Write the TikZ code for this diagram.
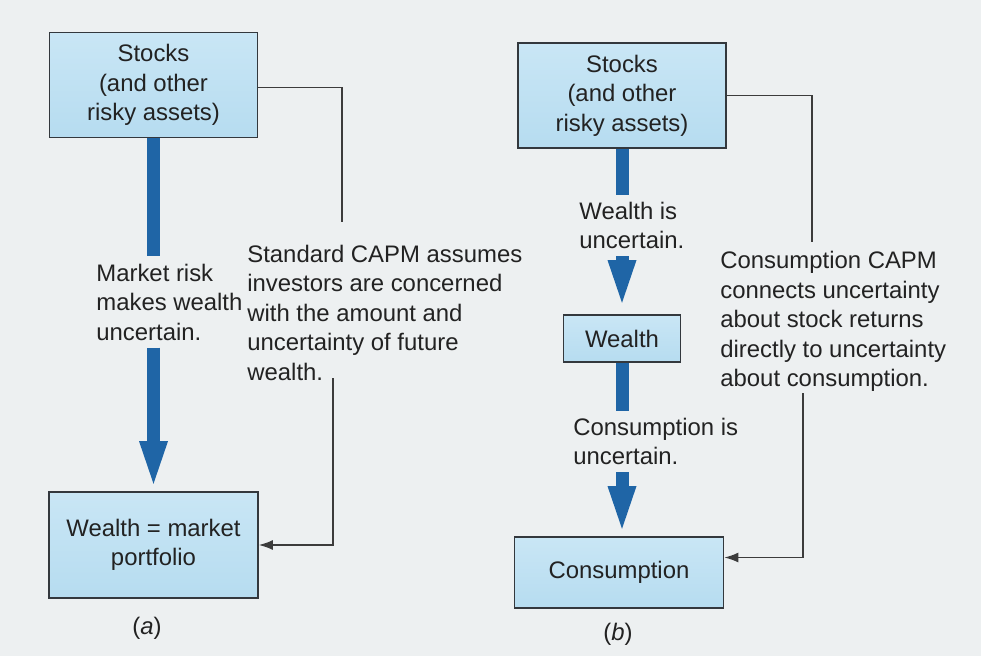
\documentclass[tikz,border=0pt]{standalone}
\usepackage{fontspec}
\setmainfont{Liberation Sans}
\usetikzlibrary{arrows.meta}
\definecolor{pagebg}{HTML}{EDF0F1}
\definecolor{boxtop}{HTML}{C9E6F5}
\definecolor{boxbot}{HTML}{B6DCF0}
\definecolor{boxline}{HTML}{33383D}
\definecolor{flowblue}{HTML}{1F65A6}
\definecolor{linkgray}{HTML}{3C3C3C}
\definecolor{textgray}{HTML}{222222}

\begin{document}
\begin{tikzpicture}[x=0.02cm,y=-0.02cm,
  font=\fontsize{13.6}{16.8}\selectfont,
  box/.style={draw=boxline,line width=1pt,top color=boxtop,bottom color=boxbot,
    align=center,inner sep=0pt,text=textgray},
  txt/.style={align=left,inner sep=4pt,text=textgray},
  flow/.style={draw=flowblue,line width=0.26cm},
  flowhead/.style={flow,-{Triangle[width=0.48cm,length=1cm]}},
  link/.style={draw=linkgray,line width=0.8pt},
  linkhead/.style={link,-{Latex[length=0.28cm,width=0.2cm]}}]
  \fill[pagebg] (0,0) rectangle (981,656);

  % (a) standard CAPM
  \node[box,minimum width=4.16cm,minimum height=2.1cm] (stocksA) at (153.5,85)
    {Stocks\\(and other\\risky assets)};
  \node[txt,anchor=west] (riskA) at (89,302) {Market risk\\makes wealth\\uncertain.};
  \node[box,minimum width=4.18cm,minimum height=2.12cm] (wealthA) at (153.5,545)
    {Wealth = market\\portfolio};
  \node[txt,anchor=west] (capmA) at (240,312.5)
    {Standard CAPM assumes\\investors are concerned\\with the amount and\\uncertainty of future\\wealth.};
  \coordinate (capmTopA) at (342,222);
  \coordinate (capmBotA) at (333,378);
  \draw[flow] (stocksA.south) -- (stocksA.south |- riskA.north);
  \draw[flowhead] (wealthA.north |- riskA.south) -- (wealthA.north);
  \draw[link] ([yshift=-0.05cm]stocksA.east) -| (capmTopA);
  \draw[linkhead] (capmBotA) |- (wealthA.east);
  \node[text=textgray] (capA) at (147,628) {(\textit{a})};

  % (b) consumption CAPM
  \node[box,minimum width=4.16cm,minimum height=2.1cm] (stocksB) at (622,95.5)
    {Stocks\\(and other\\risky assets)};
  \node[txt,anchor=west] (lblW) at (572,225.5) {Wealth is\\uncertain.};
  \node[box,minimum width=2.34cm,minimum height=0.94cm] (wealthB) at (622,338.5) {Wealth};
  \node[txt,anchor=west] (lblC) at (566,441.5) {Consumption is\\uncertain.};
  \node[box,minimum width=4.18cm,minimum height=1.42cm] (consB) at (619,572.5) {Consumption};
  \node[txt,anchor=west] (ccapmB) at (713,321.5)
    {Consumption CAPM\\connects uncertainty\\about stock returns\\directly to uncertainty\\about consumption.};
  \coordinate (ccapmTopB) at (812,242);
  \coordinate (ccapmBotB) at (803,393);
  \draw[flow] (stocksB.south) -- (stocksB.south |- lblW.north);
  \draw[flowhead] (wealthB.north |- lblW.south) -- ([yshift=0.08cm]wealthB.north);
  \draw[flow] (wealthB.south) -- (wealthB.south |- lblC.north);
  \draw[flowhead] (wealthB.south |- lblC.south) -- (wealthB.south |- consB.north);
  \draw[link] (stocksB.east) -| (ccapmTopB);
  \draw[linkhead] (ccapmBotB) |- ([yshift=0.3cm]consB.east);
  \node[text=textgray] (capB) at (618,634) {(\textit{b})};
\end{tikzpicture}
\end{document}
